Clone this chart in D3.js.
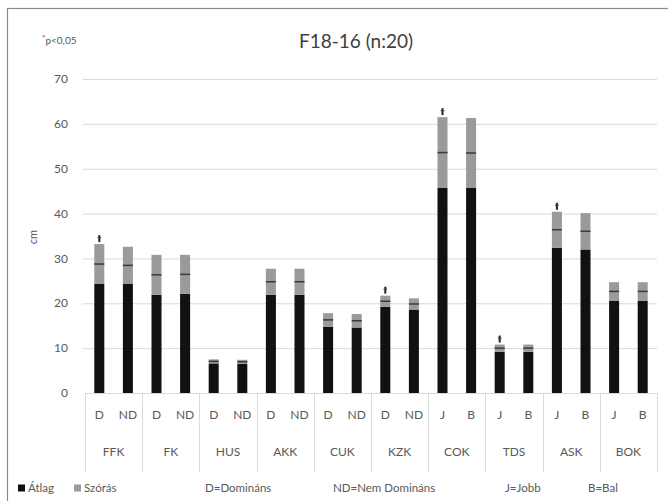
<!DOCTYPE html>
<html>
<head>
<meta charset="utf-8">
<script src="https://cdn.jsdelivr.net/npm/d3@7"></script>
<style>
  html, body { margin: 0; padding: 0; background: #fff; }
  svg { display: block; font-family: Lato, "Open Sans", sans-serif; }
</style>
</head>
<body>
<svg id="chart" width="668" height="501"></svg>
<script>
// Measurement groups and the side label of each bar
const groups = ["FFK", "FK", "HUS", "AKK", "CUK", "KZK", "COK", "TDS", "ASK", "BOK"];
const sides = ["D", "ND", "D", "ND", "D", "ND", "D", "ND", "D", "ND", "D", "ND",
               "J", "B", "J", "B", "J", "B", "J", "B"];
// Mean (Átlag) and standard deviation (Szórás), in cm
const atlag = [24.3, 24.3, 21.9, 22.1, 6.6, 6.5, 21.9, 21.9, 14.8, 14.6,
               19.2, 18.6, 45.7, 45.7, 9.2, 9.2, 32.4, 32.0, 20.6, 20.6];
const szoras = [8.9, 8.3, 8.9, 8.7, 0.9, 0.9, 5.8, 5.8, 3.0, 3.0,
                2.5, 2.5, 15.8, 15.6, 1.6, 1.6, 8.0, 8.1, 4.1, 4.1];
// Significant difference marker (p<0,05)
const significant = [1, 0, 0, 0, 0, 0, 0, 0, 0, 0, 1, 0, 1, 0, 1, 0, 1, 0, 0, 0];
const yTicks = [0, 10, 20, 30, 40, 50, 60, 70];
const legendNotes = ["D=Domináns", "ND=Nem Domináns", "J=Jobb", "B=Bal"];

const svg = d3.select("#chart");
const plotLeft = 85, plotRight = 657, plotTop = 79, plotBottom = 393;

const bars = atlag.map((m, i) => ({ i, side: sides[i], mean: m, sd: szoras[i], sig: significant[i] }));

const x = d3.scaleBand().domain(d3.range(bars.length)).range([plotLeft, plotRight])
  .paddingInner(0.65).paddingOuter(0.325);
const y = d3.scaleLinear().domain([0, 70]).range([plotBottom, plotTop]);

// outer frame
svg.append("rect").attr("x", 7.5).attr("y", 8.5).attr("width", 700).attr("height", 600)
  .attr("fill", "none").attr("stroke", "#8a8a8a").attr("stroke-width", 1.2);

// gridlines
svg.append("g").selectAll("line").data(yTicks.filter(t => t > 0)).join("line")
  .attr("x1", plotLeft - 2).attr("x2", plotRight).attr("y1", d => y(d) + 0.5).attr("y2", d => y(d) + 0.5)
  .attr("stroke", "#d9d9d9").attr("stroke-width", 1);

// y tick labels
svg.append("g").selectAll("text").data(yTicks).join("text")
  .attr("x", 68).attr("y", d => y(d)).attr("dy", "0.35em").attr("text-anchor", "end")
  .attr("font-size", 12).attr("fill", "#595959").text(d => d);

svg.append("text").attr("transform", "translate(33,237) rotate(-90)")
  .attr("text-anchor", "middle").attr("dy", "0.35em").attr("font-size", 11).attr("fill", "#595959").text("cm");

// bars: mean (black) with sd stacked on top (gray)
const g = svg.append("g");
g.selectAll("rect.mean").data(bars).join("rect").attr("class", "mean")
  .attr("x", d => x(d.i)).attr("width", x.bandwidth())
  .attr("y", d => y(d.mean)).attr("height", d => y(0) - y(d.mean)).attr("fill", "#111");
g.selectAll("rect.sd").data(bars).join("rect").attr("class", "sd")
  .attr("x", d => x(d.i)).attr("width", x.bandwidth())
  .attr("y", d => y(d.mean + d.sd)).attr("height", d => y(d.mean) - y(d.mean + d.sd)).attr("fill", "#9a9a9a");
g.selectAll("line.mid").data(bars).join("line").attr("class", "mid")
  .attr("x1", d => x(d.i)).attr("x2", d => x(d.i) + x.bandwidth())
  .attr("y1", d => y(d.mean + d.sd / 2)).attr("y2", d => y(d.mean + d.sd / 2))
  .attr("stroke", "#3a3a3a").attr("stroke-width", 1.5);

// significance asterisks above the bars
const sig = g.selectAll("g.sig").data(bars.filter(d => d.sig)).join("g").attr("class", "sig")
  .attr("transform", d => `translate(${x(d.i) + x.bandwidth() / 2},${y(d.mean + d.sd)})`);
sig.append("line").attr("x1", 0).attr("x2", 0).attr("y1", -9).attr("y2", -2)
  .attr("stroke", "#222").attr("stroke-width", 2);
sig.append("line").attr("x1", -1.8).attr("x2", 1.8).attr("y1", -6.5).attr("y2", -6.5)
  .attr("stroke", "#444").attr("stroke-width", 1.2);

// category axis
const ax = svg.append("g");
ax.append("line").attr("x1", plotLeft).attr("x2", plotRight).attr("y1", plotBottom + 0.5).attr("y2", plotBottom + 0.5)
  .attr("stroke", "#d9d9d9");
const step = x.step();
const groupEdges = d3.range(groups.length + 1).map(k => plotLeft + k * 2 * step);
ax.selectAll("line.sep").data(groupEdges).join("line").attr("class", "sep")
  .attr("x1", d => Math.round(d) + 0.5).attr("x2", d => Math.round(d) + 0.5)
  .attr("y1", plotBottom).attr("y2", 472).attr("stroke", "#d9d9d9");
ax.selectAll("text.side").data(bars).join("text").attr("class", "side")
  .attr("x", d => x(d.i) + x.bandwidth() / 2).attr("y", 415).attr("dy", "0.35em")
  .attr("text-anchor", "middle").attr("font-size", 12).attr("fill", "#595959").text(d => d.side);
ax.selectAll("text.grp").data(groups).join("text").attr("class", "grp")
  .attr("x", (d, k) => plotLeft + (k + 0.5) * 2 * step).attr("y", 452).attr("dy", "0.35em")
  .attr("text-anchor", "middle").attr("font-size", 12).attr("fill", "#595959").text(d => d);

// title and significance note
svg.append("text").attr("x", 356).attr("y", 41).attr("dy", "0.35em").attr("text-anchor", "middle")
  .attr("font-size", 19).attr("fill", "#404040").text("F18-16 (n:20)");
const note = svg.append("text").attr("x", 42).attr("y", 43).attr("dy", "0.35em")
  .attr("font-size", 10).attr("fill", "#595959");
note.append("tspan").attr("font-size", 8).attr("dy", "-0.3em").text("*");
note.append("tspan").attr("dy", "0.3em").text("p<0,05");

// legend
const ly = 488;
const lg = svg.append("g").attr("font-size", 11.5).attr("fill", "#595959");
[["Átlag", "#111", 18], ["Szórás", "#9a9a9a", 74]].forEach(([label, color, lx]) => {
  lg.append("rect").attr("x", lx).attr("y", ly - 3.5).attr("width", 7).attr("height", 7).attr("fill", color);
  lg.append("text").attr("x", lx + 10).attr("y", ly).attr("dy", "0.35em").text(label);
});
const noteX = [205, 333, 505, 588];
lg.selectAll("text.note").data(legendNotes).join("text").attr("class", "note")
  .attr("x", (d, k) => noteX[k]).attr("y", ly).attr("dy", "0.35em").text(d => d);
</script>
</body>
</html>
